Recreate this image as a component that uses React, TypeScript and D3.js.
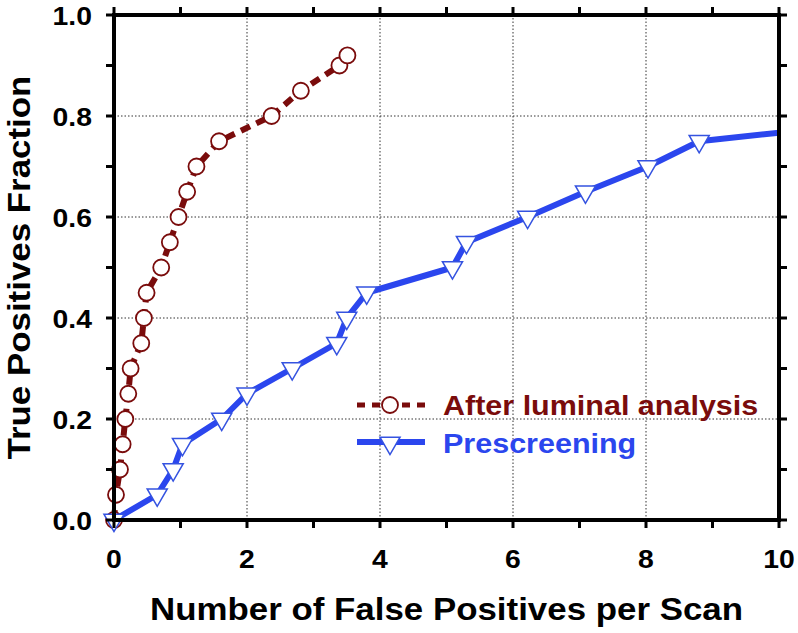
import React from "react";
import * as d3 from "d3";

// After luminal analysis (red, dashed, circles)
const fpAfter = [0, 0.03, 0.09, 0.13, 0.17, 0.215, 0.25, 0.41, 0.45, 0.49, 0.71, 0.84, 0.97, 1.1, 1.24, 1.58, 2.37, 2.81, 3.39, 3.51];
const tpAfter = [0, 0.05, 0.1, 0.15, 0.2, 0.25, 0.3, 0.35, 0.4, 0.45, 0.5, 0.55, 0.6, 0.65, 0.7, 0.75, 0.8, 0.85, 0.9, 0.92];

// Prescreening (blue, solid, triangles)
const fpPre = [0, 0.65, 0.89, 1.03, 1.62, 2.0, 2.68, 3.35, 3.5, 3.8, 5.09, 5.3, 6.22, 7.09, 8.03, 8.8, 10];
const tpPre = [0, 0.05, 0.1, 0.15, 0.2, 0.25, 0.3, 0.35, 0.4, 0.45, 0.5, 0.55, 0.6, 0.65, 0.7, 0.75, 0.767];
const preMarkerCount = 16; // last point is just where the line leaves the frame

const xTicks = [0, 1, 2, 3, 4, 5, 6, 7, 8, 9, 10];
const xLabels = [0, 2, 4, 6, 8, 10];
const xGrid = [2, 4, 6, 8];
const yTicks = [0, 0.1, 0.2, 0.3, 0.4, 0.5, 0.6, 0.7, 0.8, 0.9, 1.0];
const yLabels = [0, 0.2, 0.4, 0.6, 0.8, 1.0];
const yGrid = [0.2, 0.4, 0.6, 0.8];

const W = 798;
const H = 633;
const margin = { top: 15, right: 19, bottom: 113, left: 114 };
const RED = "#7a0c0c";
const BLUE = "#2b46ee";
const FONT = "'Liberation Sans', Arial, Helvetica, sans-serif";
const SX = 1.09; // text in the original is a bit wide

export default function App() {
  const x = d3.scaleLinear().domain([0, 10]).range([margin.left, W - margin.right]);
  const y = d3.scaleLinear().domain([0, 1]).range([H - margin.bottom, margin.top]);
  const [x0, x1] = x.range();
  const [y0, y1] = y.range();

  const afterPts: [number, number][] = fpAfter.map((v, i) => [x(v), y(tpAfter[i])]);
  const prePts: [number, number][] = fpPre.map((v, i) => [x(v), y(tpPre[i])]);
  const path = d3.line();

  const tri = d3.symbol(d3.symbolTriangle, 175)();

  const txt = (
    tx: number,
    ty: number,
    s: string,
    size: number,
    anchor: string,
    fill = "#000",
    rot = 0
  ) => (
    <text
      transform={`translate(${tx},${ty}) rotate(${rot}) scale(${SX},1)`}
      textAnchor={anchor}
      fontFamily={FONT}
      fontWeight="bold"
      fontSize={size}
      fill={fill}
    >
      {s}
    </text>
  );

  return (
    <svg
      width={W}
      height={H}
      style={{ position: "absolute", left: 0, top: 0, background: "#fff" }}
    >
      <rect width={W} height={H} fill="#fff" />
      {/* grid */}
      <g stroke="#333" strokeWidth={1} strokeDasharray="1.5,2">
        {xGrid.map((t) => (
          <line key={"gx" + t} x1={x(t)} x2={x(t)} y1={y0} y2={y1} />
        ))}
        {yGrid.map((t) => (
          <line key={"gy" + t} x1={x0} x2={x1} y1={y(t)} y2={y(t)} />
        ))}
      </g>

      {/* After luminal analysis */}
      <path d={path(afterPts) || ""} fill="none" stroke={RED} strokeWidth={6} strokeDasharray="10,7" />
      {afterPts.map(([px, py], i) => (
        <circle key={"c" + i} cx={px} cy={py} r={8} fill="#fff" stroke={RED} strokeWidth={1.8} />
      ))}

      {/* Prescreening */}
      <path d={path(prePts) || ""} fill="none" stroke={BLUE} strokeWidth={6} strokeLinejoin="round" />
      {prePts.slice(0, preMarkerCount).map(([px, py], i) => (
        <path
          key={"t" + i}
          d={tri || ""}
          transform={`translate(${px},${py}) rotate(180)`}
          fill="#fff"
          stroke="#3553e0"
          strokeWidth={1.5}
        />
      ))}

      {/* frame + ticks */}
      <g stroke="#000" strokeWidth={3}>
        {xTicks.map((t) => (
          <g key={"xt" + t}>
            <line x1={x(t)} x2={x(t)} y1={y0} y2={y0 + 8} />
            <line x1={x(t)} x2={x(t)} y1={y1} y2={y1 - 8} />
          </g>
        ))}
        {yTicks.map((t) => (
          <g key={"yt" + t}>
            <line x1={x0} x2={x0 - 8} y1={y(t)} y2={y(t)} />
            <line x1={x1} x2={x1 + 8} y1={y(t)} y2={y(t)} />
          </g>
        ))}
      </g>
      <rect x={x0} y={y1} width={x1 - x0} height={y0 - y1} fill="none" stroke="#000" strokeWidth={4} />

      {/* tick labels */}
      {xLabels.map((t) => (
        <g key={"xl" + t}>{txt(x(t), y0 + 48, String(t), 26, "middle")}</g>
      ))}
      {yLabels.map((t) => (
        <g key={"yl" + t}>{txt(x0 - 22, y(t) + 9.5, d3.format(".1f")(t), 26, "end")}</g>
      ))}

      {/* axis titles */}
      {txt((x0 + x1) / 2, 620, "Number of False Positives per Scan", 32, "middle")}
      {txt(30, (y0 + y1) / 2, "True Positives Fraction", 32, "middle", "#000", -90)}

      {/* legend */}
      <line x1={357} x2={425} y1={405} y2={405} stroke={RED} strokeWidth={5} strokeDasharray="8,7" />
      <circle cx={390} cy={405} r={8} fill="#fff" stroke={RED} strokeWidth={1.8} />
      {txt(443, 415, "After luminal analysis", 28, "start", RED)}
      <line x1={357} x2={425} y1={442} y2={442} stroke={BLUE} strokeWidth={6} />
      <path d={tri || ""} transform="translate(390,443) rotate(180)" fill="#fff" stroke="#3553e0" strokeWidth={1.5} />
      {txt(443, 453, "Prescreening", 28, "start", BLUE)}
    </svg>
  );
}
